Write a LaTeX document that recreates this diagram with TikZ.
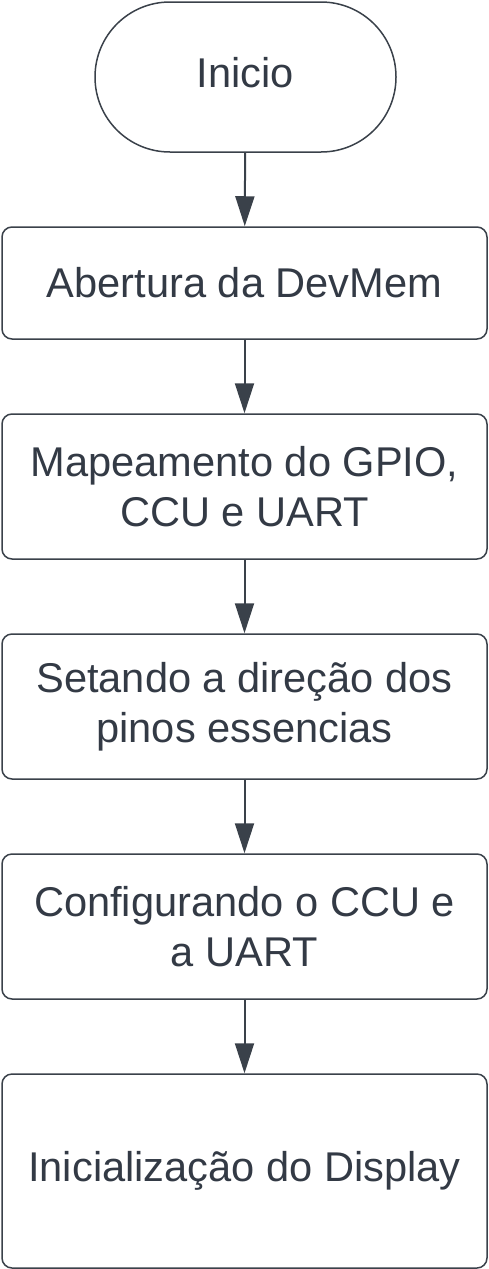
\documentclass[tikz,border=0pt]{standalone}
\usepackage{fontspec}
\setmainfont{Liberation Sans}
\usetikzlibrary{arrows.meta}
\definecolor{linegray}{HTML}{3A414A}
\definecolor{textgray}{HTML}{333A45}

\tikzset{
	terminal/.style = {draw = linegray, line width = 1.5pt, fill = white,
		minimum width = 301pt, minimum height = 150pt, rounded corners = 74.9pt,
		text depth = 10pt, text = textgray, font = \fontsize{41.6}{49}\selectfont},
	procbox/.style = {draw = linegray, line width = 1.5pt, fill = white,
		minimum width = 485pt, minimum height = 145pt, rounded corners = 10pt,
		text = textgray, align = center, font = \fontsize{41.6}{49.5}\selectfont},
	seta/.style = {draw = linegray, line width = 2pt,
		-{Triangle[length = 30pt, width = 19pt]}}
}

\begin{document}
\begin{tikzpicture}[x = 1pt, y = -1pt]
	    \useasboundingbox (0,0) rectangle (489,1269);
	    \node[terminal] (inicio) at (245.5,77) {Inicio};
	    \node[procbox, minimum height = 112pt] (devmem) at (244.5,283) {Abertura da DevMem};
	    \node[procbox] (mapeamento) at (244.5,486.5) {Mapeamento do GPIO,\\CCU e UART};
	    \node[procbox] (direcao) at (244.5,706.5) {Setando a direção dos\\pinos essencias};
	    \node[procbox] (config) at (244.5,926.5) {Configurando o CCU e\\a UART};
	    \node[procbox, minimum height = 194pt] (display) at (244.5,1171) {Inicialização do Display};
	    \draw[seta] (inicio) -- (devmem);
	    \draw[seta] (devmem) -- (mapeamento);
	    \draw[seta] (mapeamento) -- (direcao);
	    \draw[seta] (direcao) -- (config);
	    \draw[seta] (config) -- (display);
	\end{tikzpicture}
\end{document}
